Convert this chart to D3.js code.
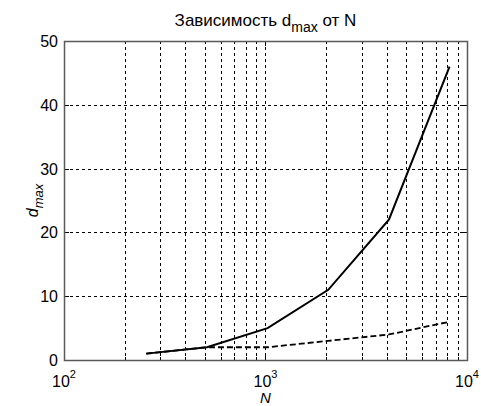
<!DOCTYPE html>
<html>
<head>
<meta charset="utf-8">
<script src="https://d3js.org/d3.v7.min.js"></script>
<style>
body{margin:0;background:#fff;}
text{font-family:"Liberation Sans",Arial,sans-serif;}
</style>
</head>
<body>
<svg id="svg" width="481" height="406"></svg>
<script>
var nValues = [256, 512, 1024, 2048, 4096, 8192];
var dSolid = [1, 2, 5, 11, 22, 46];
var dDashed = [1, 2, 2, 3, 4, 6];
var yTicks = [0, 10, 20, 30, 40, 50];
var xMajor = [100, 1000, 10000];

var pLeft = 64, pRight = 467, pTop = 41, pBottom = 360;

var svg = d3.select("svg");

var x = d3.scaleLog().domain([100, 10000]).range([pLeft, pRight]);
var y = d3.scaleLinear().domain([0, 50]).range([pBottom, pTop]);

// minor positions 200..900, 2000..9000
var xMinor = [];
[100, 1000].forEach(function(b){
    for(var k=2;k<10;k++) xMinor.push(b*k);
});

var grid = svg.append("g");
grid.selectAll("line.vx")
    .data(xMinor.concat([1000]))
    .enter().append("line")
    .attr("x1", function(d){ return Math.round(x(d))+0.5; })
    .attr("x2", function(d){ return Math.round(x(d))+0.5; })
    .attr("y1", pTop).attr("y2", pBottom)
    .attr("stroke", "#000").attr("stroke-width", 1)
    .attr("stroke-dasharray", "3,3");
grid.selectAll("line.hy")
    .data(yTicks.slice(1, 5))
    .enter().append("line")
    .attr("y1", function(d){ return Math.round(y(d))+0.5; })
    .attr("y2", function(d){ return Math.round(y(d))+0.5; })
    .attr("x1", pLeft).attr("x2", pRight)
    .attr("stroke", "#000").attr("stroke-width", 1)
    .attr("stroke-dasharray", "3,3");

// inward ticks
var ticks = svg.append("g").attr("stroke", "#000");
xMajor.concat(xMinor).forEach(function(d){
    var len = xMajor.indexOf(d) >= 0 ? 5 : 3;
    var px = Math.round(x(d))+0.5;
    ticks.append("line").attr("x1", px).attr("x2", px).attr("y1", pBottom).attr("y2", pBottom-len);
    ticks.append("line").attr("x1", px).attr("x2", px).attr("y1", pTop).attr("y2", pTop+len);
});
yTicks.forEach(function(d){
    var py = Math.round(y(d))+0.5;
    ticks.append("line").attr("x1", pLeft).attr("x2", pLeft+5).attr("y1", py).attr("y2", py);
    ticks.append("line").attr("x1", pRight).attr("x2", pRight-5).attr("y1", py).attr("y2", py);
});

// box
svg.append("rect")
    .attr("x", pLeft+0.5).attr("y", pTop+0.5)
    .attr("width", pRight-pLeft).attr("height", pBottom-pTop)
    .attr("fill", "none").attr("stroke", "#5a5a5a").attr("stroke-width", 1.5);

// lines
var line = d3.line()
    .x(function(d){ return x(d[0]); })
    .y(function(d){ return y(d[1]); });

svg.append("path")
    .datum(d3.zip(nValues, dDashed))
    .attr("d", line)
    .attr("fill", "none").attr("stroke", "#000").attr("stroke-width", 1.8)
    .attr("stroke-dasharray", "6,3");
svg.append("path")
    .datum(d3.zip(nValues, dSolid))
    .attr("d", line)
    .attr("fill", "none").attr("stroke", "#000").attr("stroke-width", 2);

// y tick labels
svg.selectAll("text.yl")
    .data(yTicks)
    .enter().append("text")
    .attr("x", pLeft-6)
    .attr("y", function(d){ return y(d)+6; })
    .attr("text-anchor", "end")
    .attr("font-size", 16)
    .text(function(d){ return d; });

// x tick labels 10^k
xMajor.forEach(function(d){
    var t = svg.append("text")
        .attr("x", x(d)).attr("y", 387)
        .attr("text-anchor", "middle")
        .attr("font-size", 16);
    t.append("tspan").text("10");
    t.append("tspan").attr("dy", -9).attr("font-size", 11).text(Math.round(Math.log10(d)));
});

// axis labels
svg.append("text")
    .attr("x", x(1000)).attr("y", 403)
    .attr("text-anchor", "middle")
    .attr("font-size", 15).attr("font-style", "italic")
    .text("N");

var yl = svg.append("text")
    .attr("transform", "translate(38," + ((pTop+pBottom)/2) + ") rotate(-90)")
    .attr("text-anchor", "middle")
    .attr("font-size", 16).attr("font-style", "italic");
yl.append("tspan").text("d");
yl.append("tspan").attr("dy", 5).attr("font-size", 13).text("max");

// title
var tt = svg.append("text")
    .attr("x", x(1000)).attr("y", 26)
    .attr("text-anchor", "middle")
    .attr("font-size", 17);
tt.append("tspan").text("Зависимость d");
tt.append("tspan").attr("dy", 6).attr("font-size", 14).text("max");
tt.append("tspan").attr("dy", -6).text(" от N");
</script>
</body>
</html>
